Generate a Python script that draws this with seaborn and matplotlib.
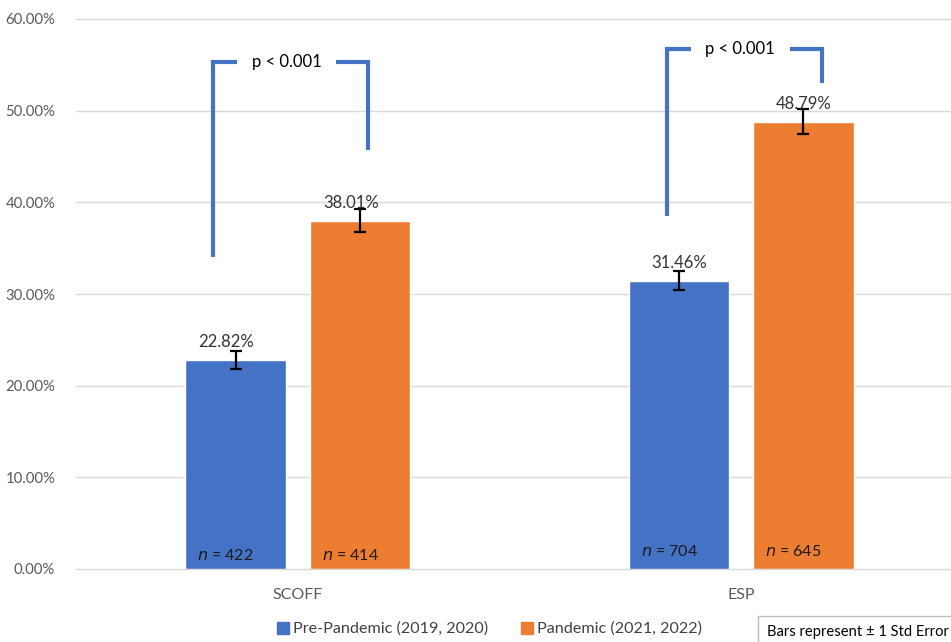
import matplotlib
matplotlib.use("Agg")
import matplotlib.pyplot as plt
import seaborn as sns
import pandas as pd
from matplotlib.ticker import FuncFormatter
from matplotlib.lines import Line2D

# ---- data ----
measures = ["SCOFF", "ESP"]
periods = ["Pre-Pandemic (2019, 2020)", "Pandemic (2021, 2022)"]
pre_values = [22.82, 31.46]
pan_values = [38.01, 48.79]
pre_se = [1.0, 1.05]
pan_se = [1.3, 1.35]
pre_n = [422, 704]
pan_n = [414, 645]
p_labels = ["p < 0.001", "p < 0.001"]
y_ticks = [0, 10, 20, 30, 40, 50, 60]

BLUE = "#4472C4"
ORANGE = "#ED7D31"

sns.set_theme(style="white")
plt.rcParams["font.family"] = ["Lato", "DejaVu Sans"]

df = pd.DataFrame({
    "measure": measures * 2,
    "period": [periods[0]] * 2 + [periods[1]] * 2,
    "value": pre_values + pan_values,
})

fig = plt.figure(figsize=(9.51, 6.42), dpi=100)
W, H = 951, 642
ax = fig.add_axes([76 / W, (H - 569) / H, 887 / W, 550 / H])

sns.barplot(data=df, x="measure", y="value", hue="period", order=measures,
            hue_order=periods, palette=[BLUE, ORANGE], width=0.56, gap=0.19,
            errorbar=None, ax=ax, saturation=1, legend=False)

ax.set_xlim(-0.5, 1.5)
ax.set_ylim(0, 60)
ax.set_yticks(y_ticks)
ax.yaxis.set_major_formatter(FuncFormatter(lambda v, p: f"{v:.2f}%"))
ax.grid(axis="y", color="#d9d9d9", linewidth=1.0)
ax.set_axisbelow(True)
for s in ax.spines.values():
    s.set_visible(False)
ax.tick_params(axis="y", length=0, pad=15, labelsize=10.7, labelcolor="#595959")
ax.tick_params(axis="x", length=0, pad=14, labelsize=11.5, labelcolor="#595959")
ax.set_xlabel("")
ax.set_ylabel("")
for gl in ax.get_ygridlines():
    gl.set_clip_on(False)

bars = list(ax.patches)[:4]
vals = pre_values + pan_values
ses = pre_se + pan_se
ns = pre_n + pan_n
label_dx = [-10, 0, -9, 0]
for i, b in enumerate(bars):
    cx = b.get_x() + b.get_width() / 2
    ax.errorbar(cx, vals[i], yerr=ses[i], fmt="none", ecolor="black",
                elinewidth=1.6, capsize=4, capthick=1.6, zorder=5)
    ax.annotate(f"{vals[i]:.2f}%", (cx, vals[i]), xytext=(label_dx[i], 10),
                textcoords="offset pixels", ha="center", va="bottom",
                fontsize=12, color="#333333", zorder=6)
    ndy = 13 if i % 2 == 0 else 18
    ax.annotate(f"$\\it{{n}}$ = {ns[i]}", (b.get_x(), 0), xytext=(12, ndy),
                textcoords="offset pixels", ha="left", va="center",
                fontsize=11.5, color="#1a1a1a", zorder=6)

# significance brackets (annotation geometry)
brackets = [
    # cat, x_left_off, x_right_off, y_top, y_left_bottom, y_right_bottom
    (0, -0.191, 0.158, 55.3, 34.0, 45.7),
    (1, -0.168, 0.181, 56.7, 38.5, 53.0),
]
for (c, xl, xr, yt, ylb, yrb), lab in zip(brackets, p_labels):
    x0, x1 = c + xl, c + xr
    ax.plot([x0, x0, x0 + 0.054], [ylb, yt, yt], color=BLUE, lw=3,
            solid_joinstyle="miter", solid_capstyle="butt", zorder=4)
    ax.plot([x1 - 0.072, x1, x1], [yt, yt, yrb], color=BLUE, lw=3,
            solid_joinstyle="miter", solid_capstyle="butt", zorder=4)
    ax.text((x0 + 0.054 + x1 - 0.072) / 2, yt, lab, ha="center", va="center",
            fontsize=12, color="black")

# legend
handles = [Line2D([], [], marker="s", linestyle="none", markersize=8,
                  markerfacecolor=col, markeredgecolor=col)
           for col in [BLUE, ORANGE]]
fig.legend(handles, periods, loc="center left", ncol=2,
           bbox_to_anchor=(260 / W, 1 - 629 / H), frameon=False,
           fontsize=11.6, handletextpad=0.15, columnspacing=1.9,
           labelcolor="#404040", handlelength=1.0)

fig.text(767 / W, 1 - 632 / H, "Bars represent \u00b1 1 Std Error",
         ha="left", va="center", fontsize=10.6, color="black",
         bbox=dict(boxstyle="square,pad=0.6", facecolor="white",
                   edgecolor="#bfbfbf", linewidth=1))

fig.savefig("out.png", dpi=100)
